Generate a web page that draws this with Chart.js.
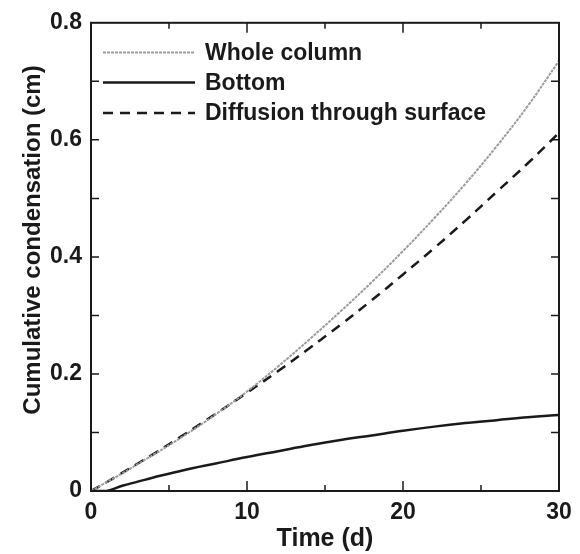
<!DOCTYPE html>
<html>
<head>
<meta charset="utf-8">
<script src="https://cdn.jsdelivr.net/npm/chart.js@4"></script>
<style>
  html, body { margin: 0; padding: 0; background: #fff; }
  #wrap { width: 580px; height: 554px; }
</style>
</head>
<body>
<div id="wrap"><canvas id="miGrafica" width="580" height="554"></canvas></div>
<script>
// values
var days = [0, 1, 2, 3, 4, 6, 8, 10, 12, 14, 16, 18, 20, 22, 24, 26, 28, 30];
var wholeColumn = [0, 0.015, 0.030, 0.046, 0.062, 0.095, 0.131, 0.170, 0.213, 0.259, 0.307, 0.357, 0.410, 0.466, 0.525, 0.589, 0.658, 0.735];
var bottom = [0, 0, 0.009, 0.016, 0.023, 0.036, 0.047, 0.058, 0.068, 0.078, 0.087, 0.095, 0.103, 0.110, 0.116, 0.121, 0.126, 0.130];
var diffusion = [0, 0.015, 0.031, 0.047, 0.063, 0.097, 0.132, 0.168, 0.205, 0.244, 0.284, 0.326, 0.370, 0.415, 0.462, 0.511, 0.560, 0.612];
var seriesNames = ["Whole column", "Bottom", "Diffusion through surface"];
var xTicks = [0, 10, 20, 30];
var yTicks = [0, 0.2, 0.4, 0.6, 0.8];
var yTitle = 'Cumulative condensation (cm)';

var fuente = "'Liberation Sans', Arial, sans-serif";
var negro = '#1a1a1a';

function puntos(valores) {
  var lista = [];
  for (var i = 0; i < days.length; i++) {
    lista.push({ x: days[i], y: valores[i] });
  }
  return lista;
}

// frame + inward ticks + y title + legend inside the plot
var marcoPlugin = {
  id: 'marco',
  afterDraw: function (chart) {
    var ctx = chart.ctx;
    var a = chart.chartArea;
    var sx = chart.scales.x;
    var sy = chart.scales.y;
    ctx.save();
    ctx.strokeStyle = negro;
    ctx.lineWidth = 2;
    ctx.strokeRect(a.left, a.top, a.right - a.left, a.bottom - a.top);

    ctx.lineWidth = 1.5;
    for (var t = 5; t < 30; t += 5) {
      var px = sx.getPixelForValue(t);
      var len = (t % 10 == 0) ? 10 : 6;
      ctx.beginPath();
      ctx.moveTo(px, a.bottom); ctx.lineTo(px, a.bottom - len);
      ctx.moveTo(px, a.top); ctx.lineTo(px, a.top + len);
      ctx.stroke();
    }
    for (var v = 1; v < 8; v++) {
      var py = sy.getPixelForValue(v / 10);
      ctx.beginPath();
      ctx.moveTo(a.left, py); ctx.lineTo(a.left + 8, py);
      ctx.moveTo(a.right, py); ctx.lineTo(a.right - 8, py);
      ctx.stroke();
    }

    // y title
    ctx.fillStyle = negro;
    ctx.font = 'bold 24px ' + fuente;
    ctx.textAlign = 'center';
    ctx.textBaseline = 'middle';
    ctx.save();
    ctx.translate(33, 240);
    ctx.rotate(-Math.PI / 2);
    ctx.fillText(yTitle, 0, 0);
    ctx.restore();

    // legend
    var filas = [52.5, 82.5, 113];
    ctx.font = 'bold 23px ' + fuente;
    ctx.textAlign = 'left';
    chart.data.datasets.forEach(function (ds, i) {
      ctx.beginPath();
      ctx.strokeStyle = ds.borderColor;
      ctx.lineWidth = ds.borderWidth;
      ctx.setLineDash(ds.borderDash || []);
      ctx.moveTo(103, filas[i]);
      ctx.lineTo(195, filas[i]);
      ctx.stroke();
      ctx.setLineDash([]);
      ctx.fillText(ds.label, 205, filas[i] + 1);
    });
    ctx.restore();
  }
};

var miCanvas = document.getElementById("miGrafica").getContext("2d");

var grafica = new Chart(miCanvas, {
  type: "line",
  data: {
    datasets: [
      {
        label: seriesNames[0],
        data: puntos(wholeColumn),
        borderColor: '#9c9c9c',
        borderWidth: 2,
        borderDash: [3, 1],
        pointRadius: 0,
        tension: 0.4,
        fill: false
      },
      {
        label: seriesNames[1],
        data: puntos(bottom),
        borderColor: negro,
        borderWidth: 2.5,
        pointRadius: 0,
        tension: 0.4,
        fill: false
      },
      {
        label: seriesNames[2],
        data: puntos(diffusion),
        borderColor: negro,
        borderWidth: 2.5,
        borderDash: [10, 7],
        pointRadius: 0,
        tension: 0.4,
        fill: false
      }
    ]
  },
  options: {
    responsive: false,
    animation: false,
    layout: { padding: { left: 0, top: 22, right: 21, bottom: 0 } },
    plugins: {
      legend: { display: false },
      tooltip: { enabled: false }
    },
    scales: {
      x: {
        type: 'linear',
        min: 0,
        max: 30,
        afterBuildTicks: function (s) { s.ticks = xTicks.map(function (v) { return { value: v }; }); },
        afterFit: function (s) { s.height = 63; },
        grid: { display: false, drawTicks: false },
        border: { display: false },
        ticks: {
          color: negro,
          padding: 8,
          maxRotation: 0,
          font: { family: fuente, size: 23, weight: 'bold' }
        },
        title: {
          display: true,
          text: 'Time (d)',
          color: negro,
          padding: { top: 0, bottom: 0 },
          font: { family: fuente, size: 25, weight: 'bold' }
        }
      },
      y: {
        min: 0,
        max: 0.8,
        afterBuildTicks: function (s) { s.ticks = yTicks.map(function (v) { return { value: v }; }); },
        afterFit: function (s) { s.width = 91; },
        grid: { display: false, drawTicks: false },
        border: { display: false },
        ticks: {
          color: negro,
          padding: 9,
          font: { family: fuente, size: 23, weight: 'bold' },
          callback: function (v) { return String(Math.round(v * 10) / 10); }
        }
      }
    }
  },
  plugins: [marcoPlugin]
});
</script>
</body>
</html>
